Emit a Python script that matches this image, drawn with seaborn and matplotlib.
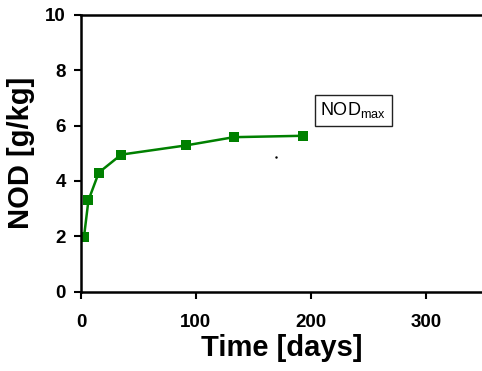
import seaborn as sns
import matplotlib.pyplot as plt
import pandas as pd

# NOD over time
days = [2.6, 6.5, 15.5, 35, 91, 133, 193]
nod = [1.97, 3.3, 4.3, 4.95, 5.28, 5.58, 5.63]

sns.set_style("ticks")
plt.rcParams['font.family'] = ['Liberation Sans', 'DejaVu Sans']
plt.rcParams.update({"text.color": "black", "axes.labelcolor": "black",
                     "xtick.color": "black", "ytick.color": "black"})

df = pd.DataFrame({"days": days, "nod": nod})

fig = plt.figure(figsize=(4.82, 3.71), dpi=100)
ax = fig.add_axes([0.168, 0.214, 0.832, 0.746])

sns.lineplot(data=df, x="days", y="nod", ax=ax, color="#008000",
             marker="s", markersize=6.5, markeredgewidth=0, linewidth=1.8)

# stray dot in the original figure
ax.plot([169.6], [4.87], marker=".", color="black", markersize=1.5)

ax.text(237, 6.55, "NOD$_{\\mathregular{max}}$", fontsize=13, ha="center", va="center",
        bbox=dict(boxstyle="square,pad=0.3", fc="white", ec="#222222", lw=1.0))

ax.set_xlim(0, 349)
ax.set_ylim(0, 10)
ax.set_xticks([0, 100, 200, 300])
ax.set_yticks([0, 2, 4, 6, 8, 10])
ax.set_xlabel("Time [days]", fontsize=21, fontweight="bold", labelpad=2)
ax.set_ylabel("NOD [g/kg]", fontsize=21, fontweight="bold", labelpad=7)
for lbl in ax.get_xticklabels() + ax.get_yticklabels():
    lbl.set_fontweight("bold")
ax.tick_params(axis="both", labelsize=13.5, width=1.5, length=5, direction="out")
ax.tick_params(axis="x", pad=11)
ax.tick_params(axis="y", pad=6)
ax.spines["right"].set_visible(False)
for s in ["left", "bottom", "top"]:
    ax.spines[s].set_linewidth(1.8)
    ax.spines[s].set_color("black")

plt.savefig("out.png", dpi=100)
